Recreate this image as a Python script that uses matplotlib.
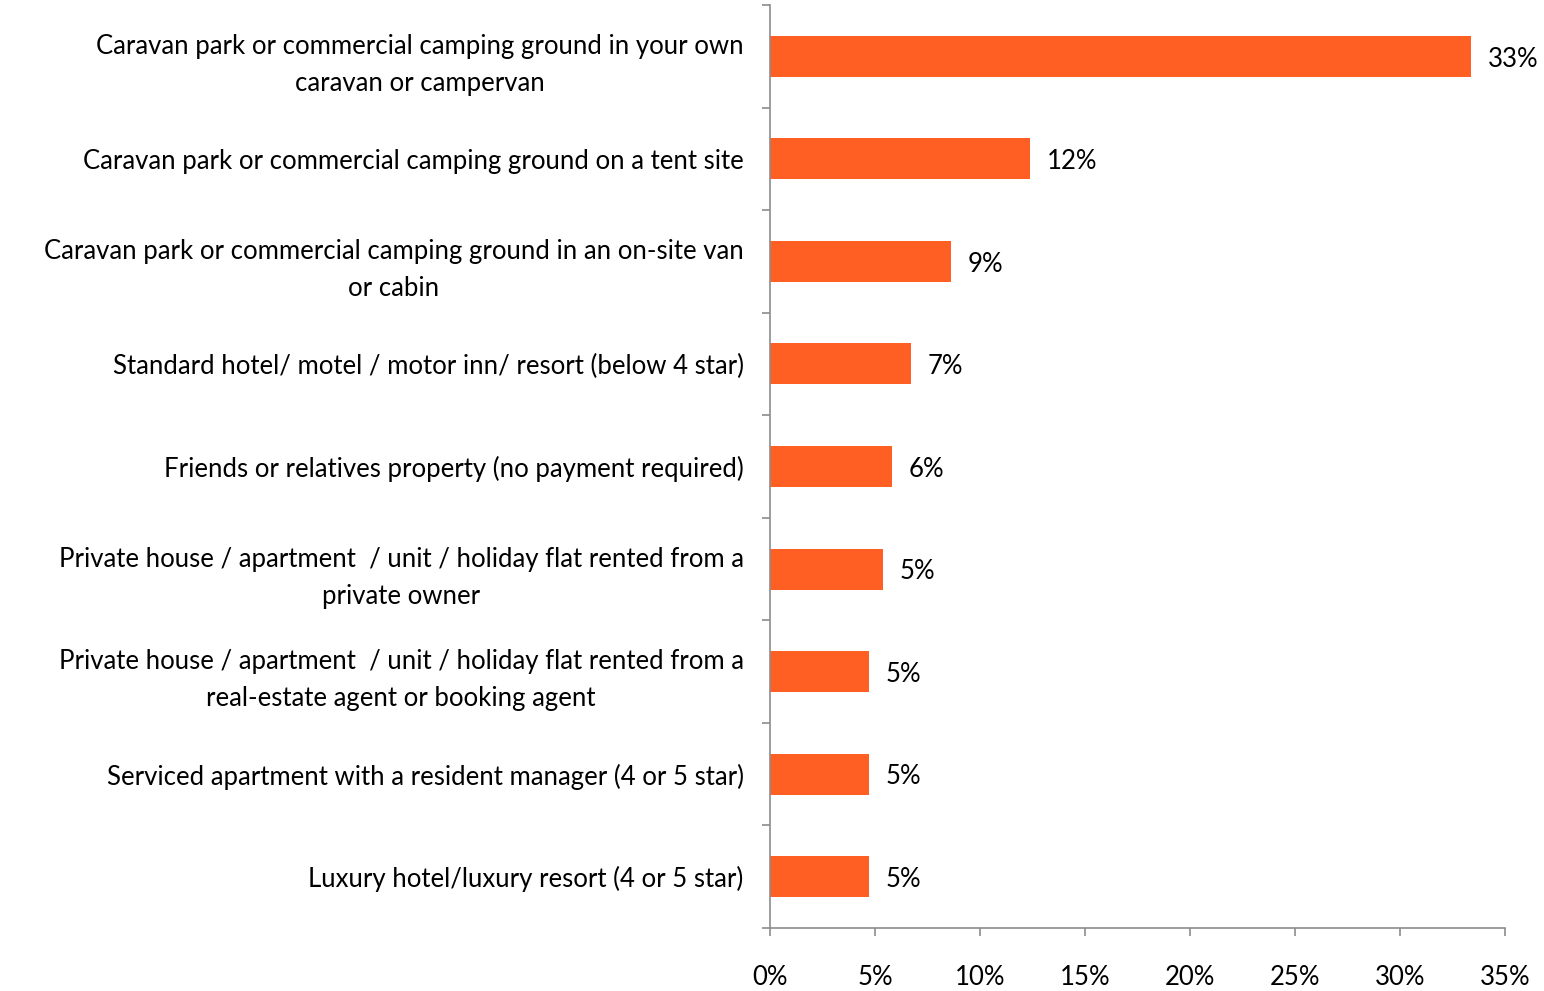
import matplotlib.pyplot as plt
import numpy as np

plt.rcParams['font.family'] = ['Lato', 'DejaVu Sans']

categories = [
    "Caravan park or commercial camping ground in your own\ncaravan or campervan",
    "Caravan park or commercial camping ground on a tent site",
    "Caravan park or commercial camping ground in an on-site van\nor cabin",
    "Standard hotel/ motel / motor inn/ resort (below 4 star)",
    "Friends or relatives property (no payment required)",
    "Private house / apartment  / unit / holiday flat rented from a\nprivate owner",
    "Private house / apartment  / unit / holiday flat rented from a\nreal-estate agent or booking agent",
    "Serviced apartment with a resident manager (4 or 5 star)",
    "Luxury hotel/luxury resort (4 or 5 star)",
]
shares = [33.4, 12.4, 8.6, 6.7, 5.8, 5.4, 4.7, 4.7, 4.7]
xticks = [0, 5, 10, 15, 20, 25, 30, 35]

bar_color = '#FF5F22'
axis_color = '#8C8C8C'
fs = 18.5

fig = plt.figure(figsize=(15.44, 9.91), dpi=100)
ax = fig.add_axes([0.4987, 0.0636, 0.476, 0.9314])

y = np.arange(len(categories))
ax.barh(y, shares, height=0.4, color=bar_color, edgecolor='none')
ax.set_ylim(len(categories) - 0.5, -0.5)
ax.set_xlim(0, 35)

for yi, v in zip(y, shares):
    ax.annotate(f"{v:.0f}%", (v, yi), xytext=(12, -2), textcoords='offset points',
                va='center', ha='left', fontsize=fs)

# labels at category centres, tick marks at boundaries
ax.set_yticks(y)
ax.set_yticklabels(categories, fontsize=fs)
for lab in ax.get_yticklabels():
    lab.set_multialignment('center')
    lab.set_linespacing(1.6)
ax.tick_params(axis='y', which='major', length=0, pad=19)
ax.set_yticks(np.arange(len(categories) + 1) - 0.5, minor=True)
ax.tick_params(axis='y', which='minor', length=6, width=1.2, color=axis_color)

ax.set_xticks(xticks)
ax.set_xticklabels([f"{t}%" for t in xticks], fontsize=fs)
ax.tick_params(axis='x', length=6, width=1.2, color=axis_color, pad=21)

for side in ['top', 'right']:
    ax.spines[side].set_visible(False)
for side in ['left', 'bottom']:
    ax.spines[side].set_color(axis_color)
    ax.spines[side].set_linewidth(1.2)

fig.savefig('out.png', dpi=100)
